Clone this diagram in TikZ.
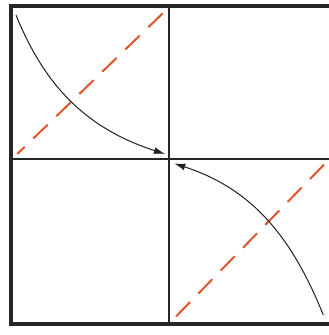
\documentclass[tikz,border=0pt]{standalone}
\usetikzlibrary{arrows.meta}
\definecolor{frameblack}{HTML}{262626}
\definecolor{lineblack}{HTML}{231F20}
\definecolor{dashorange}{HTML}{E0552A}
\tikzset{
  frame/.style={draw=frameblack,line width=4pt},
  divider/.style={draw=frameblack,line width=2.2pt},
  diag/.style={draw=dashorange,line width=2pt,dash pattern=on 20pt off 12pt},
  swing/.style={draw=lineblack,line width=1pt,-{Latex[length=11pt,width=7pt]}}
}
\begin{document}
\begin{tikzpicture}[x=1pt,y=-1pt]
\useasboundingbox (0,0) rectangle (329,335);
\begin{scope}
\clip (0,0) rectangle (329,335);
\fill[white] (0,0) rectangle (329,335);
% frame and dividers
\coordinate (tl) at (10.5,6);
\coordinate (br) at (331,324);
\draw[frame] (tl) rectangle (br);
\coordinate (vtop) at (169,6);
\coordinate (vbot) at (169,324);
\coordinate (hl) at (10.5,159);
\coordinate (hr) at (331,159);
\draw[divider] (vtop) -- (vbot);
\draw[divider] (hl) -- (hr);
% dashed diagonals
\coordinate (d1a) at (162.7,13.3);
\coordinate (d1b) at (17.3,154);
\coordinate (d2a) at (176,316.5);
\coordinate (d2b) at (324.3,164.3);
\draw[diag] (d1a) -- (d1b);
\draw[diag] (d2a) -- (d2b);
% curved arrows
\coordinate (a1s) at (16,15);
\coordinate (a1e) at (165,154);
\coordinate (a2s) at (323.3,315);
\coordinate (a2e) at (174.3,163.5);
\draw[swing] (a1s) to[out=-68,in=162] (a1e);
\draw[swing] (a2s) to[out=112,in=-18] (a2e);
\end{scope}
\end{tikzpicture}
\end{document}
